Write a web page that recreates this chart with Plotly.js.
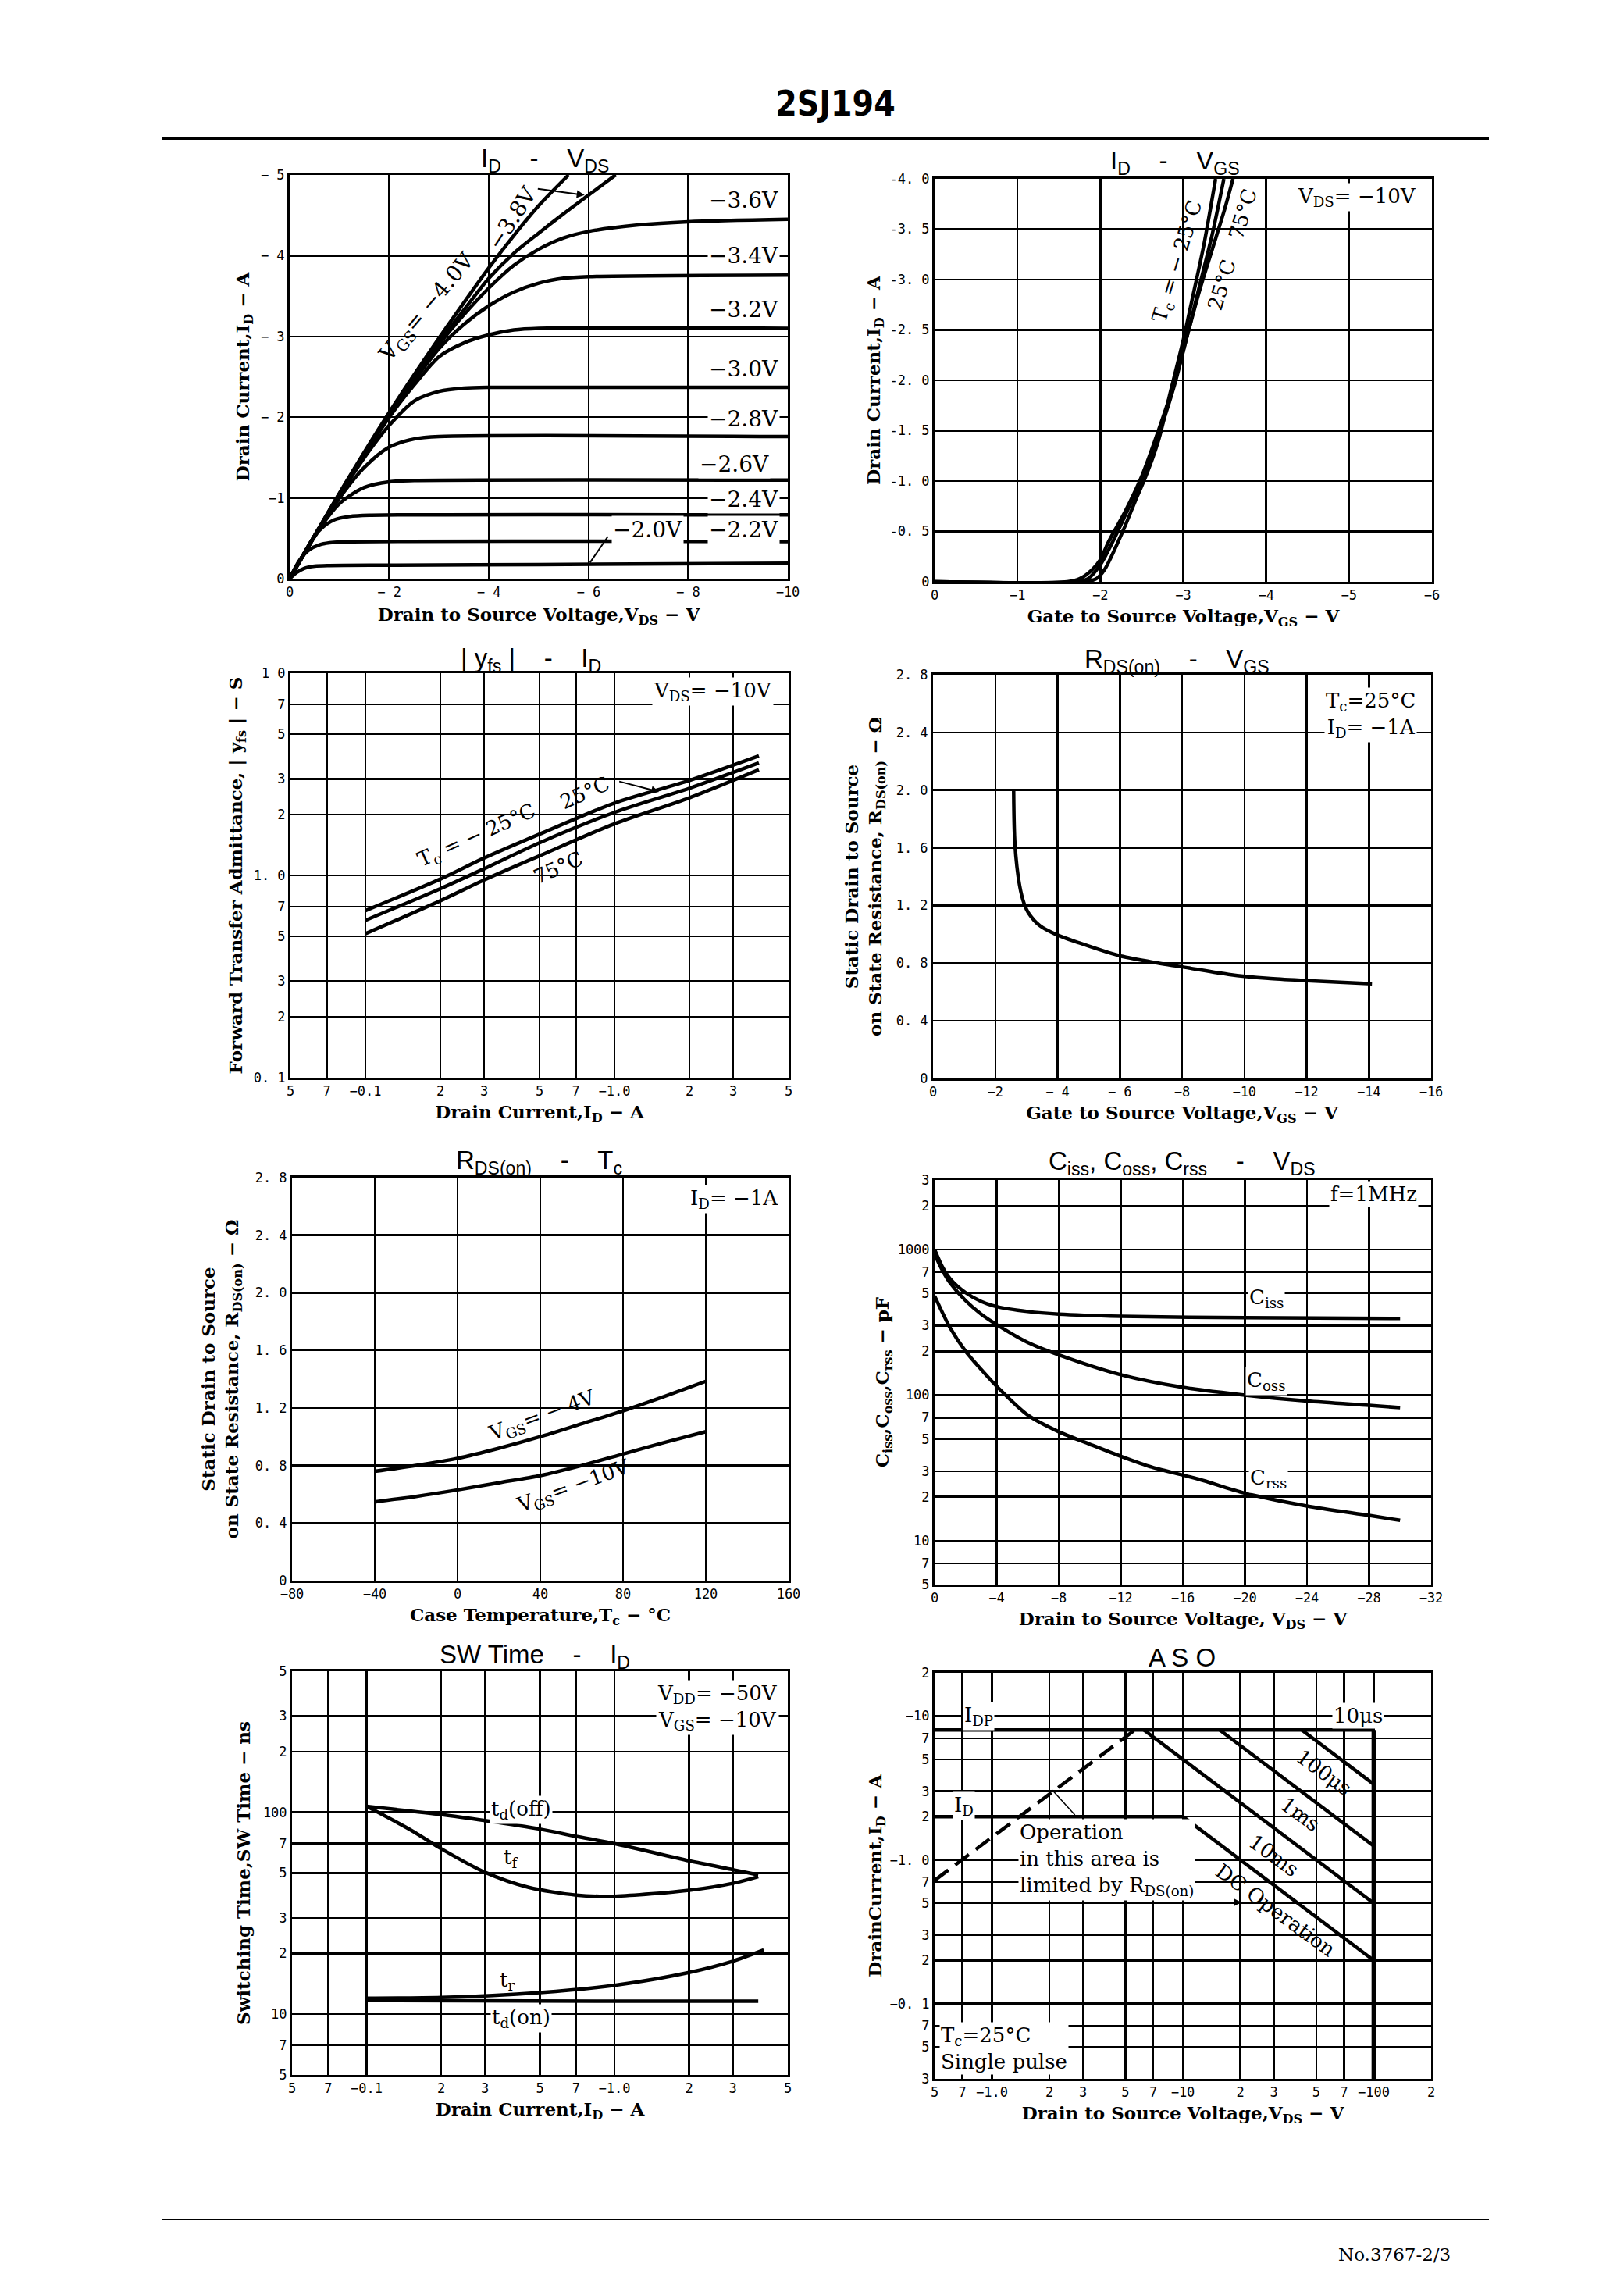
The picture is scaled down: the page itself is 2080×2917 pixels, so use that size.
<!DOCTYPE html>
<html><head><meta charset="utf-8">
<script src="https://cdn.plot.ly/plotly-3.0.1.min.js"></script>
<style>html,body{margin:0;padding:0;background:#fff;}#chart{width:2080px;height:2917px;}</style>
</head><body><div id="chart"></div>
<script>
// ================= DATA =================
// Chart 1: I_D - V_DS, one curve per V_GS
const c1Labels = ['−2.0V','−2.2V','−2.4V','−2.6V','−2.8V','−3.0V','−3.2V','−3.4V','−3.6V','−3.8V','−4.0V'];
const c1Vds20 = [0,-0.15,-0.3,-0.5,-0.8,-2,-5,-10];
const c1Id20  = [0,-0.08,-0.13,-0.155,-0.163,-0.167,-0.175,-0.19];
const c1Vds22 = [0,-0.2,-0.4,-0.6,-0.8,-1,-10];
const c1Id22  = [0,-0.23,-0.36,-0.42,-0.445,-0.455,-0.46];
const c1Vds24 = [0,-0.3,-0.6,-0.9,-1.2,-1.6,-10];
const c1Id24  = [0,-0.32,-0.6,-0.73,-0.77,-0.785,-0.79];
const c1Vds26 = [0,-0.5,-1,-1.5,-2,-2.5,-10];
const c1Id26  = [0,-0.53,-0.93,-1.13,-1.2,-1.215,-1.22];
const c1Vds28 = [0,-0.5,-1,-1.5,-2,-2.5,-3,-10];
const c1Id28  = [0,-0.53,-1.0,-1.38,-1.63,-1.73,-1.76,-1.76];
const c1Vds30 = [0,-0.5,-1,-1.5,-2,-2.5,-3,-3.5,-4,-10];
const c1Id30  = [0,-0.53,-1.03,-1.5,-1.9,-2.2,-2.32,-2.36,-2.37,-2.37];
const c1Vds32 = [0,-1,-2,-2.5,-3,-3.5,-4,-4.5,-5,-10];
const c1Id32  = [0,-1.04,-2.0,-2.4,-2.75,-2.92,-3.02,-3.08,-3.1,-3.1];
const c1Vds34 = [0,-1,-2,-2.5,-3,-3.5,-4,-4.5,-5,-5.5,-6,-10];
const c1Id34  = [0,-1.05,-2.02,-2.45,-2.85,-3.15,-3.38,-3.55,-3.66,-3.72,-3.74,-3.76];
const c1Vds36 = [0,-1,-2,-3,-3.5,-4,-4.5,-5,-5.5,-6,-7,-8,-10];
const c1Id36  = [0,-1.05,-2.03,-2.9,-3.27,-3.6,-3.88,-4.08,-4.22,-4.3,-4.38,-4.42,-4.45];
const c1Vds38 = [0,-1,-2,-3,-3.5,-4,-4.5,-5,-5.5,-6,-6.5,-6.55];
const c1Id38  = [0,-1.05,-2.04,-2.93,-3.33,-3.72,-4.03,-4.28,-4.52,-4.75,-4.98,-5.0];
const c1Vds40 = [0,-1,-2,-3,-3.5,-4,-4.5,-5,-5.6];
const c1Id40  = [0,-1.06,-2.06,-2.98,-3.42,-3.85,-4.25,-4.62,-5.0];
const c1XTicks = [0,-2,-4,-6,-8,-10];
const c1XText  = ['0','− 2','− 4','− 6','− 8','−10'];
const c1YTicks = [0,-1,-2,-3,-4,-5];
const c1YText  = ['0','−1','− 2','− 3','− 4','− 5'];

// Chart 2: I_D - V_GS
const c2Labels = ['T<sub>c</sub> = − 25°C','25°C','75°C'];
const c2VgsM25 = [0,-1.8,-1.95,-2.05,-2.27,-2.42,-2.55,-2.7,-2.85,-3.0,-3.12,-3.25,-3.39];
const c2IdM25  = [0,0,-0.03,-0.12,-0.5,-0.8,-1.05,-1.4,-1.9,-2.4,-2.85,-3.35,-4.0];
const c2Vgs25  = [0,-1.7,-1.85,-2.0,-2.18,-2.35,-2.5,-2.7,-2.9,-3.05,-3.2,-3.35,-3.49];
const c2Id25   = [0,0,-0.03,-0.17,-0.45,-0.75,-1.0,-1.45,-1.97,-2.45,-2.95,-3.45,-4.0];
const c2Vgs75  = [0,-1.6,-1.75,-1.9,-2.0,-2.1,-2.3,-2.5,-2.7,-2.9,-3.05,-3.2,-3.35,-3.5,-3.6];
const c2Id75   = [0,0,-0.03,-0.12,-0.22,-0.4,-0.7,-1.05,-1.5,-2.0,-2.45,-2.9,-3.3,-3.7,-4.0];
const c2XTicks = [0,-1,-2,-3,-4,-5,-6];
const c2XText  = ['0','−1','−2','−3','−4','−5','−6'];
const c2YTicks = [0,-0.5,-1,-1.5,-2,-2.5,-3,-3.5,-4];
const c2YText  = ['0','-0. 5','-1. 0','-1. 5','-2. 0','-2. 5','-3. 0','-3. 5','-4. 0'];

// Chart 3: |yfs| - I_D  (|I_D| in A, |yfs| in S)
const c3Id    = [0.1,0.2,0.3,0.5,1,2,3.8];
const c3YfsM25 = [0.67,0.96,1.22,1.6,2.28,2.95,3.9];
const c3Yfs25  = [0.6,0.86,1.08,1.45,2.05,2.7,3.6];
const c3Yfs75  = [0.515,0.75,0.95,1.25,1.8,2.42,3.33];
const c3XTicks = [0.05,0.07,0.1,0.2,0.3,0.5,0.7,1,2,3,5];
const c3XText  = ['5','7','−0.1','2','3','5','7','−1.0','2','3','5'];
const c3YTicks = [0.1,0.2,0.3,0.5,0.7,1,2,3,5,7,10];
const c3YText  = ['0. 1','2','3','5','7','1. 0','2','3','5','7','1 0'];

// Chart 4: R_DS(on) - V_GS
const c4Vgs = [-2.59,-2.63,-2.78,-2.93,-3.06,-3.43,-3.94,-4.7,-5.96,-6.97,-8.23,-9.49,-10.76,-12.02,-14.1];
const c4Rds = [2.0,1.63,1.34,1.21,1.15,1.06,1.0,0.94,0.853,0.81,0.766,0.722,0.694,0.678,0.656];
const c4XTicks = [0,-2,-4,-6,-8,-10,-12,-14,-16];
const c4XText  = ['0','−2','− 4','− 6','−8','−10','−12','−14','−16'];
const rdsYTicks = [0,0.4,0.8,1.2,1.6,2.0,2.4,2.8];
const rdsYText  = ['0','0. 4','0. 8','1. 2','1. 6','2. 0','2. 4','2. 8'];

// Chart 5: R_DS(on) - Tc
const c5Tc   = [-40,-20,0,20,40,60,80,100,120];
const c5R4   = [0.76,0.8,0.85,0.92,1.0,1.09,1.18,1.28,1.385];
const c5R10  = [0.547,0.585,0.63,0.68,0.73,0.8,0.88,0.96,1.035];
const c5XTicks = [-80,-40,0,40,80,120,160];
const c5XText  = ['−80','−40','0','40','80','120','160'];

// Chart 6: Ciss, Coss, Crss - V_DS
const c6VCiss = [0,-0.5,-1,-2,-3,-4,-6,-8,-12,-20,-30];
const c6Ciss  = [1000,760,630,505,440,405,375,360,348,340,336];
const c6VCoss = [0,-0.5,-1,-2,-3,-4,-6,-8,-12,-16,-20,-24,-28,-30];
const c6Coss  = [930,720,590,445,360,305,230,189,138,113,100,91,85,82];
const c6VCrss = [0,-1,-2,-3,-4,-6,-8,-10,-12,-14,-17,-20,-24,-28,-30];
const c6Crss  = [480,290,200,150,115,73,56,46,38,32,26.5,21.2,17.3,14.9,13.8];
const c6XTicks = [0,-4,-8,-12,-16,-20,-24,-28,-32];
const c6XText  = ['0','−4','−8','−12','−16','−20','−24','−28','−32'];
const c6YTicks = [5,7,10,20,30,50,70,100,200,300,500,700,1000,2000,3000];
const c6YText  = ['5','7','10','2','3','5','7','100','2','3','5','7','1000','2','3'];

// Chart 7: SW time - I_D
const c7IdOff = [0.1,0.2,0.3,0.5,0.7,1,2,3,3.8];
const c7TdOff = [107,97.5,91,82.6,76,70,57.5,52,49];
const c7IdTf  = [0.1,0.15,0.2,0.3,0.45,0.7,1,2,3,3.8];
const c7Tf    = [107,82,66,50.5,42.5,38.9,38.4,41.1,44.5,48];
const c7IdTr  = [0.1,0.2,0.5,1,2,3,4];
const c7Tr    = [12.0,12.1,12.8,13.9,16.1,18.3,20.8];
const c7IdOn  = [0.1,1,3.8];
const c7TdOn  = [11.7,11.6,11.6];
const c7YTicks = [5,7,10,20,30,50,70,100,200,300,500];
const c7YText  = ['5','7','10','2','3','5','7','100','2','3','5'];

// Chart 8: ASO (|V_DS| V, |I_D| A)
const c8VIdp = [0.5,100];   const c8IIdp = [8,8];
const c8VId  = [0.5,10];    const c8IId  = [2,2];
const c8VDc  = [10,100];    const c8IDc  = [2,0.2];
const c8V10ms = [6.25,100]; const c8I10ms = [8,0.5];
const c8V1ms  = [15.6,100]; const c8I1ms  = [8,1.25];
const c8V100u = [42,100];   const c8I100u = [8,3.36];
const c8VVdss = [100,100];  const c8IVdss = [8,0.03];
const c8VRds  = [0.5,5.6];  const c8IRds  = [0.72,8.0];
const c8XTicks = [0.5,0.7,1,2,3,5,7,10,20,30,50,70,100,200];
const c8XText  = ['5','7','−1.0','2','3','5','7','−10','2','3','5','7','−100','2'];
const c8YTicks = [0.03,0.05,0.07,0.1,0.2,0.3,0.5,0.7,1,2,3,5,7,10,20];
const c8YText  = ['3','5','7','−0. 1','2','3','5','7','−1. 0','2','3','5','7','−10','2'];

// ================= LAYOUT =================
const W = 2080, H = 2917;
const L10 = Math.log10;
const SERIF = 'DejaVu Serif, Liberation Serif, serif';
const MONO = 'DejaVu Sans Mono, monospace';
const SANS = 'Liberation Sans, Arial, sans-serif';
const TF = {family: MONO, size: 17, color: '#000'};
const TTF = {family: SERIF, size: 23, color: '#000', weight: 'bold'};
const LBL = {family: SERIF, size: 26, color: '#000'};
const LBL1 = {family: SERIF, size: 28, color: '#000'};
const HDF = {family: SANS, size: 33, color: '#000'};
const boxes = {
  1: [371, 1009, 224, 741],
  2: [1197, 1834, 229, 745],
  3: [372, 1010, 862, 1380],
  4: [1195, 1833, 864, 1381],
  5: [374, 1010, 1508, 2024],
  6: [1197, 1833, 1511, 2029],
  7: [374, 1009, 2140, 2657],
  8: [1197, 1833, 2142, 2662]
};
const sfx = n => (n === 1 ? '' : String(n));
function base(){
  return {showline:true, mirror:true, linecolor:'#000', linewidth:3, showgrid:true,
    gridcolor:'#000', gridwidth:2.5, zeroline:false, ticks:'', tickfont:TF,
    tickmode:'array', fixedrange:true};
}
function xa(n, o){ const b = boxes[n];
  return Object.assign(base(), {domain:[b[0]/W, b[1]/W], anchor:'y'+sfx(n)}, o); }
function ya(n, o){ const b = boxes[n];
  return Object.assign(base(), {domain:[1-b[3]/H, 1-b[2]/H], anchor:'x'+sfx(n)}, o); }

const LW = 4.5;
function tr(n, x, y, extra){
  return Object.assign({type:'scatter', mode:'lines', x:x, y:y, xaxis:'x'+sfx(n), yaxis:'y'+sfx(n),
    line:{color:'#000', width:LW, shape:'spline', smoothing:0.8}, hoverinfo:'skip', showlegend:false}, extra||{});
}

const data = [
  tr(1,c1Vds20,c1Id20,{name:c1Labels[0]}), tr(1,c1Vds22,c1Id22,{name:c1Labels[1]}),
  tr(1,c1Vds24,c1Id24,{name:c1Labels[2]}), tr(1,c1Vds26,c1Id26,{name:c1Labels[3]}),
  tr(1,c1Vds28,c1Id28,{name:c1Labels[4]}), tr(1,c1Vds30,c1Id30,{name:c1Labels[5]}),
  tr(1,c1Vds32,c1Id32,{name:c1Labels[6]}), tr(1,c1Vds34,c1Id34,{name:c1Labels[7]}),
  tr(1,c1Vds36,c1Id36,{name:c1Labels[8]}), tr(1,c1Vds38,c1Id38,{name:c1Labels[9]}),
  tr(1,c1Vds40,c1Id40,{name:c1Labels[10]}),
  tr(2,c2VgsM25,c2IdM25,{name:'-25°C'}), tr(2,c2Vgs25,c2Id25,{name:'25°C'}), tr(2,c2Vgs75,c2Id75,{name:'75°C'}),
  tr(3,c3Id,c3YfsM25,{name:'-25°C'}), tr(3,c3Id,c3Yfs25,{name:'25°C'}), tr(3,c3Id,c3Yfs75,{name:'75°C'}),
  tr(4,c4Vgs,c4Rds,{name:'RDS(on)'}),
  tr(5,c5Tc,c5R4,{name:'VGS=-4V'}), tr(5,c5Tc,c5R10,{name:'VGS=-10V'}),
  tr(6,c6VCiss,c6Ciss,{name:'Ciss'}), tr(6,c6VCoss,c6Coss,{name:'Coss'}), tr(6,c6VCrss,c6Crss,{name:'Crss'}),
  tr(7,c7IdOff,c7TdOff,{name:'td(off)'}), tr(7,c7IdTf,c7Tf,{name:'tf'}),
  tr(7,c7IdTr,c7Tr,{name:'tr'}), tr(7,c7IdOn,c7TdOn,{name:'td(on)'}),
  tr(8,c8VIdp,c8IIdp,{name:'IDP',line:{color:'#000',width:LW}}),
  tr(8,c8VId,c8IId,{name:'ID',line:{color:'#000',width:LW}}),
  tr(8,c8VDc,c8IDc,{name:'DC',line:{color:'#000',width:LW}}),
  tr(8,c8V10ms,c8I10ms,{name:'10ms',line:{color:'#000',width:LW}}),
  tr(8,c8V1ms,c8I1ms,{name:'1ms',line:{color:'#000',width:LW}}),
  tr(8,c8V100u,c8I100u,{name:'100us',line:{color:'#000',width:LW}}),
  tr(8,c8VVdss,c8IVdss,{name:'VDSS',line:{color:'#000',width:5.5}}),
  tr(8,c8VRds,c8IRds,{name:'RDS(on) limit',line:{color:'#000',width:LW,dash:'22px,11px'}})
];

const nb = '\u00a0';
const SEP = nb+nb+nb+' - '+nb+nb+nb;
const CLR = 'rgba(0,0,0,0)';
function ann(n, x, y, text, o){
  return Object.assign({xref:'x'+sfx(n), yref:'y'+sfx(n), x:x, y:y, text:text, showarrow:false,
    font:(n===1?LBL1:LBL), bgcolor:'#fff', borderpad:1}, o||{});
}
// arrow-only annotation: head at (x,y), tail at (ax,ay), all in axis units
function arr(n, x, y, ax, ay, head, w){
  return {xref:'x'+sfx(n), yref:'y'+sfx(n), axref:'x'+sfx(n), ayref:'y'+sfx(n), x:x, y:y, ax:ax, ay:ay,
    text:' ', showarrow:true, arrowhead:head, arrowsize:1, arrowwidth:w, arrowcolor:'#000', font:{size:2}};
}
function ptitle(text, cx, cy){
  return {xref:'paper', yref:'paper', x:cx/W, y:1-cy/H, text:text, showarrow:false,
    font:HDF, xanchor:'center', yanchor:'middle'};
}
const R = {xanchor:'right'};
const T = {bgcolor:CLR};
const annotations = [
  // panel titles
  ptitle('I<sub>D</sub>'+SEP+'V<sub>DS</sub>', 698, 205),
  ptitle('I<sub>D</sub>'+SEP+'V<sub>GS</sub>', 1505, 208),
  ptitle('| y<sub>fs</sub> |'+SEP+'I<sub>D</sub>', 680, 845),
  ptitle('R<sub>DS(on)</sub>'+SEP+'V<sub>GS</sub>', 1507, 846),
  ptitle('R<sub>DS(on)</sub>'+SEP+'T<sub>c</sub>', 690, 1488),
  ptitle('C<sub>iss</sub>, C<sub>oss</sub>, C<sub>rss</sub>'+SEP+'V<sub>DS</sub>', 1514, 1489),
  ptitle('SW Time'+SEP+'I<sub>D</sub>', 685, 2121),
  ptitle('A S O', 1514, 2122),
  // chart 1 labels
  ann(1,-9.85,-4.69,c1Labels[8],R), ann(1,-9.85,-4.0,c1Labels[7],R),
  ann(1,-9.85,-3.33,c1Labels[6],R), ann(1,-9.85,-2.6,c1Labels[5],R),
  ann(1,-9.85,-1.98,c1Labels[4],R), ann(1,-9.66,-1.42,c1Labels[3],R),
  ann(1,-9.85,-0.98,c1Labels[2],R), ann(1,-9.85,-0.6,c1Labels[1],R),
  ann(1,-6.45,-0.6,c1Labels[0],{xanchor:'left'}),
  arr(1,-6.03,-0.2,-6.42,-0.55,0,2),
  ann(1,-2.77,-3.35,'V<sub>GS</sub>= −4.0V',{textangle:-50, bgcolor:CLR}),
  ann(1,-4.47,-4.46,'−3.8V',{textangle:-57, bgcolor:CLR}),
  arr(1,-5.92,-4.75,-4.95,-4.83,2,2),
  // chart 2
  ann(2,-5.83,-3.82,'V<sub>DS</sub>= −10V',R),
  ann(2,-2.94,-3.18,c2Labels[0],{textangle:-73, bgcolor:CLR}),
  ann(2,-3.47,-2.95,c2Labels[1],{textangle:-73, bgcolor:CLR}),
  ann(2,-3.72,-3.65,c2Labels[2],{textangle:-73, bgcolor:CLR}),
  // chart 3 (log axes: positions in log10 units)
  ann(3,L10(4.35),L10(8.15),'V<sub>DS</sub>= −10V',R),
  ann(3,L10(0.28),L10(1.56),'T<sub>c</sub> = − 25°C',{textangle:-24, bgcolor:CLR}),
  ann(3,L10(0.76),L10(2.56),'25°C',{textangle:-24, bgcolor:CLR}),
  ann(3,L10(0.595),L10(1.09),'75°C',{textangle:-24, bgcolor:CLR}),
  arr(3,L10(1.51),L10(2.59),L10(1.03),L10(2.93),2,2),
  // chart 4
  ann(4,-15.56,2.52,'T<sub>c</sub>=25°C<br>I<sub>D</sub>= −1A',{xanchor:'right', align:'center'}),
  // chart 5
  ann(5,156,2.65,'I<sub>D</sub>= −1A',R),
  ann(5,40.8,1.144,'V<sub>GS</sub>= − 4V',{textangle:-20, bgcolor:CLR}),
  ann(5,56.2,0.652,'V<sub>GS</sub>= −10V',{textangle:-20, bgcolor:CLR}),
  // chart 6 (y log)
  ann(6,-31.2,L10(2400),'f=1MHz',R),
  ann(6,-21.4,L10(460),'C<sub>iss</sub>'),
  ann(6,-21.4,L10(125),'C<sub>oss</sub>'),
  ann(6,-21.5,L10(26.5),'C<sub>rss</sub>'),
  // chart 7 (log axes)
  ann(7,L10(4.6),L10(330),'V<sub>DD</sub>= −50V<br>V<sub>GS</sub>= −10V',R),
  ann(7,L10(0.42),L10(103),'t<sub>d</sub>(off)'),
  ann(7,L10(0.38),L10(59.4),'t<sub>f</sub>',T),
  ann(7,L10(0.37),L10(14.6),'t<sub>r</sub>',T),
  ann(7,L10(0.42),L10(9.5),'t<sub>d</sub>(on)'),
  // chart 8 (log axes)
  ann(8,L10(0.85),L10(10),'I<sub>DP</sub>'),
  ann(8,L10(83),L10(10),'10μs'),
  ann(8,L10(0.71),L10(2.37),'I<sub>D</sub>'),
  ann(8,L10(55.2),L10(4.06),'100μs',{textangle:36, bgcolor:CLR}),
  ann(8,L10(41.1),L10(2.08),'1ms',{textangle:36, bgcolor:CLR}),
  ann(8,L10(29.9),L10(1.07),'10ms',{textangle:36, bgcolor:CLR}),
  ann(8,L10(30.6),L10(0.447),'DC Operation',{textangle:36, bgcolor:CLR}),
  ann(8,L10(1.37),L10(1.0),'Operation<br>in this area is<br>limited by R<sub>DS(on)</sub>',{xanchor:'left', align:'left'}),
  arr(8,L10(2.07),L10(3.06),L10(2.77),L10(2.0),0,1.5),
  arr(8,L10(20.3),L10(0.507),L10(13.5),L10(0.507),2,2),
  ann(8,L10(0.53),L10(0.049),'T<sub>c</sub>=25°C<br>Single pulse',{xanchor:'left', align:'left'}),
  // footer
  {xref:'paper', yref:'paper', x:1786/W, y:1-2887/H, text:'No.3767-2/3', showarrow:false,
   font:{family:SERIF, size:23, color:'#000'}, xanchor:'center', yanchor:'middle'}
];

const shapes = [
  {type:'line', xref:'paper', yref:'paper', x0:208/W, x1:1907/W, y0:1-177/H, y1:1-177/H, line:{color:'#000', width:4}},
  {type:'line', xref:'paper', yref:'paper', x0:208/W, x1:1907/W, y0:1-2842/H, y1:1-2842/H, line:{color:'#000', width:2}}
];

function xt(text, st){ return {text:text, font:TTF, standoff:st}; }

const layout = {
  width: W, height: H, margin:{l:0, r:0, t:0, b:0}, paper_bgcolor:'#fff', plot_bgcolor:'#fff',
  showlegend:false,
  title:{text:'2SJ194', xref:'container', yref:'container', x:1070/W, y:1-133/H, xanchor:'center', yanchor:'middle',
    font:{family:'Liberation Sans Narrow, DejaVu Sans Condensed, sans-serif', size:44, color:'#000', weight:'bold'}},
  xaxis: xa(1,{range:[0,-10], tickvals:c1XTicks, ticktext:c1XText, title:xt('Drain to Source Voltage,V<sub>DS</sub> − V',12)}),
  yaxis: ya(1,{range:[0,-5], tickvals:c1YTicks, ticktext:c1YText, title:xt('Drain Current,I<sub>D</sub> − A',8)}),
  xaxis2: xa(2,{range:[0,-6], tickvals:c2XTicks, ticktext:c2XText, title:xt('Gate to Source Voltage,V<sub>GS</sub> − V',10)}),
  yaxis2: ya(2,{range:[0,-4], tickvals:c2YTicks, ticktext:c2YText, title:xt('Drain Current,I<sub>D</sub> − A',6)}),
  xaxis3: xa(3,{type:'log', range:[L10(0.05),L10(5)], tickvals:c3XTicks, ticktext:c3XText, title:xt('Drain Current,I<sub>D</sub> − A',10)}),
  yaxis3: ya(3,{type:'log', range:[-1,1], tickvals:c3YTicks, ticktext:c3YText, title:xt('Forward Transfer Admittance, | y<sub>fs</sub> | − S',8)}),
  xaxis4: xa(4,{range:[0,-16], tickvals:c4XTicks, ticktext:c4XText, title:xt('Gate to Source Voltage,V<sub>GS</sub> − V',10)}),
  yaxis4: ya(4,{range:[0,2.8], tickvals:rdsYTicks, ticktext:rdsYText, title:xt('Static Drain to Source<br>on State Resistance, R<sub>DS(on)</sub> − Ω',12)}),
  xaxis5: xa(5,{range:[-80,160], tickvals:c5XTicks, ticktext:c5XText, title:xt('Case Temperature,T<sub>c</sub> − °C',10)}),
  yaxis5: ya(5,{range:[0,2.8], tickvals:rdsYTicks, ticktext:rdsYText, title:xt('Static Drain to Source<br>on State Resistance, R<sub>DS(on)</sub> − Ω',15)}),
  xaxis6: xa(6,{range:[0,-32], tickvals:c6XTicks, ticktext:c6XText, title:xt('Drain to Source Voltage, V<sub>DS</sub> − V',10)}),
  yaxis6: ya(6,{type:'log', range:[L10(5),L10(3000)], tickvals:c6YTicks, ticktext:c6YText, title:xt('C<sub>iss</sub>,C<sub>oss</sub>,C<sub>rss</sub> − pF',5)}),
  xaxis7: xa(7,{type:'log', range:[L10(0.05),L10(5)], tickvals:c3XTicks, ticktext:c3XText, title:xt('Drain Current,I<sub>D</sub> − A',10)}),
  yaxis7: ya(7,{type:'log', range:[L10(5),L10(500)], tickvals:c7YTicks, ticktext:c7YText, title:xt('Switching Time,SW Time − ns',10)}),
  xaxis8: xa(8,{type:'log', range:[L10(0.5),L10(200)], tickvals:c8XTicks, ticktext:c8XText, title:xt('Drain to Source Voltage,V<sub>DS</sub> − V',10)}),
  yaxis8: ya(8,{type:'log', range:[L10(0.03),L10(20)], tickvals:c8YTicks, ticktext:c8YText, title:xt('DrainCurrent,I<sub>D</sub> − A',4)}),
  annotations: annotations,
  shapes: shapes
};

Plotly.newPlot('chart', data, layout, {staticPlot:true, displayModeBar:false});
</script></body></html>
